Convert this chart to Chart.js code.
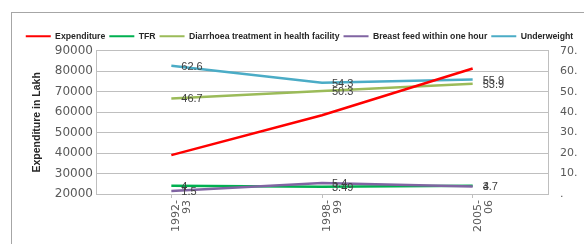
<!DOCTYPE html>
<html>
<head>
<meta charset="utf-8">
<script src="https://cdn.jsdelivr.net/npm/chart.js@4"></script>
<style>
  html, body { margin: 0; padding: 0; background: #fff; overflow: hidden; }
  #frame { position: absolute; left: 11px; top: 12px; width: 700px; height: 400px; border: 1px solid #a6a6a6; }
  #chart { position: absolute; left: 0; top: 0; }
</style>
</head>
<body>
<div id="frame"></div>
<canvas id="chart" width="584" height="244"></canvas>
<script>
// Data
const years = [['1992-', '93'], ['1998-', '99'], ['2005-', '06']];
const expenditure = [39000, 58500, 81300];
const tfr = [4, 3.49, 4];
const diarrhoea = [46.7, 50.3, 53.9];
const breastFeed = [1.5, 5.4, 3.7];
const underweight = [62.6, 54.3, 55.9];

// values next to the points of the right-axis series
const valueLabels = {
    id: 'valueLabels',
    afterDatasetsDraw(chart) {
        const ctx = chart.ctx;
        ctx.save();
        ctx.font = '11px "Liberation Sans"';
        ctx.fillStyle = '#404040';
        ctx.textBaseline = 'middle';
        chart.data.datasets.forEach((ds, i) => {
            if (ds.yAxisID !== 'y1') return;
            chart.getDatasetMeta(i).data.forEach((pt, j) => {
                ctx.fillText(String(ds.data[j]), pt.x + 10, pt.y + 1);
            });
        });
        ctx.restore();
    }
};

const gridGrey = '#bfbfbf';
const tickGrey = '#595959';

function line(label, data, color, axis, order) {
    return {
        label: label,
        data: data,
        borderColor: color,
        backgroundColor: color,
        borderWidth: 2.5,
        pointRadius: 0,
        tension: 0,
        fill: false,
        yAxisID: axis,
        order: order
    };
}

new Chart(document.getElementById('chart').getContext('2d'), {
    type: 'line',
    data: {
        labels: years,
        datasets: [
            line('Expenditure', expenditure, '#ff0000', 'y', 0),
            line('TFR', tfr, '#00b050', 'y1', 2),
            line('Diarrhoea treatment in health facility', diarrhoea, '#9bbb59', 'y1', 2),
            line('Breast feed within one hour', breastFeed, '#8064a2', 'y1', 1),
            line('Underweight', underweight, '#4bacc6', 'y1', 2)
        ]
    },
    options: {
        responsive: false,
        animation: false,
        devicePixelRatio: 1,
        layout: { padding: { top: 28, left: 15, right: 0, bottom: 0 } },
        plugins: {
            tooltip: { enabled: false },
            legend: {
                position: 'top',
                labels: {
                    boxWidth: 25,
                    boxHeight: 2,
                    padding: 4,
                    color: '#262626',
                    font: { family: 'Liberation Sans', size: 8.7, weight: 'bold' },
                    sort: (a, b) => a.datasetIndex - b.datasetIndex,
                    generateLabels(chart) {
                        const items = Chart.defaults.plugins.legend.labels.generateLabels(chart);
                        items.forEach(it => { it.fillStyle = it.strokeStyle; it.lineWidth = 0; });
                        return items;
                    }
                }
            }
        },
        scales: {
            x: {
                offset: true,
                grid: { drawOnChartArea: false, drawTicks: true, tickLength: 4, color: gridGrey },
                border: { color: gridGrey },
                ticks: {
                    autoSkip: false,
                    minRotation: 90,
                    maxRotation: 90,
                    padding: 2,
                    labelOffset: 5,
                    color: tickGrey,
                    font: { family: 'DejaVu Sans', size: 11, lineHeight: 1 }
                },
                afterFit(scale) { scale.height = 50; }
            },
            y: {
                position: 'left',
                min: 20000,
                max: 90000,
                ticks: {
                    stepSize: 10000,
                    padding: 3,
                    color: tickGrey,
                    font: { family: 'DejaVu Sans', size: 12 },
                    callback: v => String(v)
                },
                grid: { color: gridGrey, drawTicks: false },
                border: { color: gridGrey },
                title: {
                    display: true,
                    text: 'Expenditure in Lakh',
                    color: '#262626',
                    padding: { top: 16, bottom: 0 },
                    font: { family: 'Liberation Sans', size: 10.5, weight: 'bold' }
                },
                afterFit(scale) { scale.width = 81; }
            },
            y1: {
                position: 'right',
                min: 0,
                max: 70,
                ticks: {
                    stepSize: 10,
                    padding: 12,
                    color: tickGrey,
                    font: { family: 'DejaVu Sans', size: 11 },
                    callback: v => v === 0 ? '.' : v + '.'
                },
                grid: { drawOnChartArea: false, drawTicks: false },
                border: { color: gridGrey },
                afterFit(scale) { scale.width = 36; }
            }
        }
    },
    plugins: [valueLabels]
});
</script>
</body>
</html>
